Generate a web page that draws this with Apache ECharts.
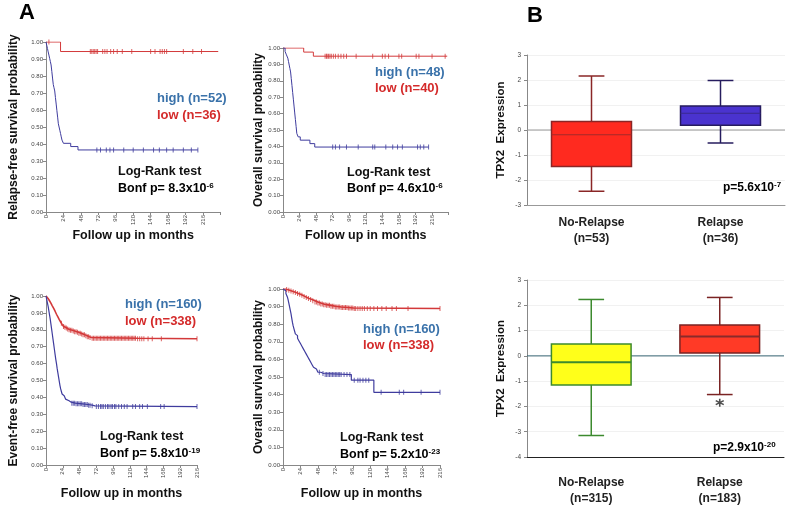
<!DOCTYPE html>
<html><head><meta charset="utf-8">
<script src="https://cdn.jsdelivr.net/npm/echarts@6/dist/echarts.min.js"></script>
<style>html,body{margin:0;padding:0;background:#fff}#c{width:798px;height:507px}</style>
</head><body><div id="c"></div>
<script>
// ---------- Kaplan-Meier data: [month, survival] step points ----------
const tlHigh = [[0,1],[1,0.981],[2,0.962],[3,0.942],[4,0.923],[5,0.904],[6,0.885],[7,0.865],[8,0.827],[9,0.788],[10,0.75],[11,0.731],[12,0.712],[13,0.673],[14,0.635],[15,0.596],[16,0.558],[17,0.519],[18,0.5],[19,0.481],[20,0.462],[21,0.442],[22,0.423],[24,0.404],[34,0.385],[44,0.365],[209,0.365]];
const tlHighCens = [70,75,83,88,93,107,120,134,148,156,166,175,189,200,209];
const tlLow = [[0,1],[20,0.944],[237,0.944]];
const tlLowCens = [4,61,63,65,67,69,71,78,81,84,89,93,98,105,118,144,150,157,160,163,166,189,202,214];

const tmHigh = [[0,1],[3,0.979],[5,0.958],[7,0.938],[8,0.917],[9,0.896],[10,0.875],[11,0.854],[12,0.813],[13,0.771],[14,0.729],[15,0.688],[16,0.646],[17,0.604],[18,0.563],[19,0.521],[20,0.479],[22,0.458],[25,0.438],[39,0.417],[46,0.396],[211,0.396]];
const tmHighCens = [72,76,82,92,109,130,133,149,159,166,173,195,199,204,211];
const tmLow = [[0,1],[30,0.975],[44,0.95],[238,0.95]];
const tmLowCens = [61,63,64,66,68,70,73,76,80,84,88,92,106,130,144,148,153,168,172,193,197,216,235];

const blHigh = [[0,1],[1,0.98],[2,0.96],[3,0.94],[4,0.915],[5,0.89],[6,0.865],[7,0.835],[8,0.805],[9,0.775],[10,0.745],[11,0.715],[12,0.685],[13,0.655],[14,0.625],[15,0.6],[16,0.57],[17,0.545],[18,0.52],[19,0.495],[20,0.47],[21,0.45],[22,0.435],[23,0.42],[24,0.41],[26,0.4],[28,0.39],[30,0.38],[33,0.372],[36,0.366],[42,0.362],[52,0.358],[60,0.354],[66,0.35],[70,0.346],[216,0.346]];
const blHighCens = [37,39,41,43,45,47,49,51,53,55,57,59,61,63,66,72,75,78,80,82,85,88,90,93,95,98,100,104,108,112,116,124,128,134,138,145,164,169,216];
const blLow = [[0,1],[1,0.995],[2,0.99],[3,0.985],[4,0.978],[5,0.972],[6,0.965],[7,0.958],[8,0.95],[9,0.942],[10,0.935],[11,0.927],[12,0.918],[13,0.91],[14,0.9],[15,0.892],[16,0.884],[17,0.876],[18,0.868],[19,0.86],[20,0.853],[21,0.846],[22,0.839],[23,0.832],[24,0.826],[25,0.82],[26,0.815],[28,0.81],[30,0.805],[32,0.8],[35,0.797],[38,0.793],[41,0.789],[44,0.785],[47,0.78],[50,0.775],[53,0.77],[56,0.765],[59,0.759],[62,0.754],[65,0.75],[130,0.747],[216,0.747]];
const blLowCens = [22,25,27,29,31,33,35,37,39,41,43,45,47,49,51,53,55,57,59,61,63,66,68,70,72,74,76,78,80,82,84,86,88,90,92,94,96,98,100,102,104,106,108,110,112,114,116,118,120,122,124,126,128,131,134,137,140,146,152,165,216];

const bmHigh = [[0,1],[2,0.99],[4,0.975],[6,0.955],[7,0.94],[8,0.92],[9,0.9],[10,0.88],[11,0.86],[12,0.835],[13,0.81],[14,0.79],[15,0.775],[16,0.76],[17,0.745],[18,0.735],[20,0.72],[22,0.705],[24,0.69],[26,0.675],[28,0.66],[30,0.645],[32,0.63],[34,0.615],[36,0.6],[38,0.585],[40,0.57],[42,0.555],[44,0.545],[46,0.535],[48,0.527],[52,0.52],[56,0.514],[94,0.482],[125,0.413],[216,0.413]];
const bmHighCens = [50,55,58,60,62,64,66,68,70,72,74,76,78,80,84,88,92,98,103,106,110,114,118,135,160,166,190,216];
const bmLow = [[0,1],[3,0.997],[6,0.993],[9,0.989],[12,0.985],[15,0.98],[18,0.975],[21,0.97],[24,0.964],[27,0.958],[30,0.952],[33,0.946],[36,0.94],[40,0.933],[44,0.926],[48,0.92],[52,0.915],[56,0.911],[60,0.907],[66,0.902],[72,0.898],[80,0.895],[90,0.892],[97,0.889],[216,0.889]];
const bmLowCens = [5,8,11,14,17,20,23,26,29,32,35,38,41,44,46,48,50,52,54,56,58,60,62,64,66,68,70,72,74,76,78,80,82,84,86,88,90,92,94,96,98,100,103,106,109,112,116,120,125,130,136,142,150,156,172,216];

const kmTicks = [0,24,48,72,96,120,144,168,192,216];

// ---------- Box plot data: [min, Q1, median, Q3, max] ----------
const boxCatsTop = ['No-Relapse\n(n=53)', 'Relapse\n(n=36)'];
const boxTopNoRel = [-2.45, -1.46, -0.19, 0.34, 2.16];
const boxTopRel = [-0.52, 0.19, 0.67, 0.96, 1.98];
const boxCatsBot = ['No-Relapse\n(n=315)', 'Relapse\n(n=183)'];
const boxBotNoRel = [-3.15, -1.15, -0.25, 0.47, 2.23];
const boxBotRel = [-1.53, 0.11, 0.77, 1.22, 2.31];
const boxBotRelOutliers = [-1.85];

// ---------- rendering ----------
const FONT = "'Liberation Sans', Arial, Helvetica, sans-serif";
const BLUE = '#3f3c9e', RED = '#d3393a';
const HIGHC = '#3a72aa', LOWC = '#d42b2b';

function stepAt(curve, t){ let s = curve[0][1]; for (const p of curve){ if (p[0] <= t) s = p[1]; else break; } return s; }
function cens(curve, times){ return times.map(t => [t, stepAt(curve, t)]); }

const grids = [
  {left:46, top:42, width:174.4, height:170},
  {left:283, top:48, width:165.6, height:164},
  {left:46, top:296, width:151, height:169},
  {left:283, top:289, width:157, height:176},
  {left:527, top:55, width:258, height:150},
  {left:527, top:280, width:257, height:178}
];

const nameStyle = {fontFamily:FONT, fontWeight:'bold', fontSize:12.5, color:'#111'};
const yNameStyle = {fontFamily:FONT, fontWeight:'bold', fontSize:12, color:'#111'};
function kmX(g, max, gap){ return {type:'value', gridIndex:g, min:0, max:max, interval:24,
  name:'Follow up in months', nameLocation:'middle', nameGap:gap, nameTextStyle:nameStyle,
  axisLine:{lineStyle:{color:'#888'}}, axisTick:{length:3, lineStyle:{color:'#888'}},
  axisLabel:{rotate:90, fontSize:6, color:'#444', margin:3, fontFamily:FONT,
    formatter: v => kmTicks.indexOf(v) >= 0 ? String(v) : ''},
  splitLine:{show:false}}; }
function kmY(g, name, gap){ return {type:'value', gridIndex:g, min:0, max:1, interval:0.1,
  name:name, nameLocation:'middle', nameGap:gap, nameTextStyle:yNameStyle,
  axisLine:{show:true, lineStyle:{color:'#888'}}, axisTick:{show:true, length:3, lineStyle:{color:'#888'}},
  axisLabel:{fontSize:6, color:'#444', margin:3, fontFamily:FONT, formatter: v => v.toFixed(2)},
  splitLine:{show:false}}; }
function boxX(g, cats, lineColor, margin){ return {type:'category', gridIndex:g, data:cats,
  axisLine:{onZero:false, lineStyle:{color:lineColor}}, axisTick:{alignWithLabel:true, length:3, lineStyle:{color:'#888'}},
  axisLabel:{fontFamily:FONT, fontWeight:'bold', fontSize:12, color:'#222', lineHeight:16, margin:margin}}; }
function boxY(g, min, max){ return {type:'value', gridIndex:g, min:min, max:max, interval:1,
  name:'TPX2  Expression', nameLocation:'middle', nameGap:20, nameTextStyle:{fontFamily:FONT, fontWeight:'bold', fontSize:11.5, color:'#111'},
  axisLine:{show:true, lineStyle:{color:'#888'}}, axisTick:{show:true, length:3, lineStyle:{color:'#888'}},
  axisLabel:{fontSize:6.5, color:'#444', margin:6, fontFamily:FONT},
  splitLine:{show:true, lineStyle:{color:'#f1f1f1'}}}; }

function kmSeries(g, curve, times, color, w){
  return [
    {type:'line', xAxisIndex:g, yAxisIndex:g, data:curve, step:'end', symbol:'none', lineStyle:{color:color, width:w}, z:2},
    {type:'scatter', xAxisIndex:g, yAxisIndex:g, data:cens(curve, times), symbol:'rect', symbolSize:[1,5], itemStyle:{color:color}, z:3}
  ];
}

function boxSeries(g, rows, styles, zeroColor){
  return {type:'custom', xAxisIndex:g, yAxisIndex:g,
    data: rows.map((r, i) => [i].concat(r)),
    encode:{x:0, y:[1,2,3,4,5]},
    renderItem: function(params, api){
      const i = api.value(0);
      const lo = api.value(1), q1 = api.value(2), md = api.value(3), q3 = api.value(4), hi = api.value(5);
      const cx = api.coord([i, 0])[0];
      const band = api.size([1, 0])[0];
      const bw = band * 0.62, cw = band * 0.1;
      const y = v => api.coord([i, v])[1];
      const st = styles[i];
      const ch = [];
      if (params.dataIndex === 0) {
        const cs = params.coordSys;
        ch.push({type:'line', shape:{x1:cs.x, y1:y(0), x2:cs.x + cs.width, y2:y(0)}, style:{stroke:zeroColor, lineWidth:1}});
      }
      ch.push({type:'line', shape:{x1:cx, y1:y(hi), x2:cx, y2:y(q3)}, style:{stroke:st.line, lineWidth:1.5}});
      ch.push({type:'line', shape:{x1:cx, y1:y(q1), x2:cx, y2:y(lo)}, style:{stroke:st.line, lineWidth:1.5}});
      ch.push({type:'line', shape:{x1:cx - cw, y1:y(hi), x2:cx + cw, y2:y(hi)}, style:{stroke:st.line, lineWidth:1.5}});
      ch.push({type:'line', shape:{x1:cx - cw, y1:y(lo), x2:cx + cw, y2:y(lo)}, style:{stroke:st.line, lineWidth:1.5}});
      ch.push({type:'rect', shape:{x:cx - bw/2, y:y(q3), width:bw, height:y(q1) - y(q3)}, style:{fill:st.fill, stroke:st.line, lineWidth:1.5}});
      ch.push({type:'line', shape:{x1:cx - bw/2, y1:y(md), x2:cx + bw/2, y2:y(md)}, style:{stroke:st.median, lineWidth:st.mw}});
      return {type:'group', children:ch};
    }};
}

function sup(base, exp){ return '{a|' + base + '}{b|' + exp + '}'; }
const richT = {a:{fontFamily:FONT, fontWeight:'bold', fontSize:12.5, color:'#111', lineHeight:14, verticalAlign:'middle'},
               b:{fontFamily:FONT, fontWeight:'bold', fontSize:8, color:'#111', verticalAlign:'top'}};
function txt(x, y, text, color, size){ return {type:'text', left:x, top:y, style:{text:text, fill:color, font:'bold ' + (size||12.5) + 'px ' + FONT}}; }
function rtxt(x, y, text){ return {type:'text', left:x, top:y, style:{text:text, rich:richT}}; }

const option = {
  animation:false,
  backgroundColor:'#fff',
  grid: grids,
  xAxis: [kmX(0, 240, 16), kmX(1, 240, 16), kmX(2, 216, 22), kmX(3, 216, 22),
          boxX(4, boxCatsTop, '#999', 10), boxX(5, boxCatsBot, '#222', 18)],
  yAxis: [kmY(0, 'Relapse-free survival probability', 26), kmY(1, 'Overall survival probability', 13),
          kmY(2, 'Event-free survival probability', 26), kmY(3, 'Overall survival probability', 13),
          boxY(4, -3, 3), boxY(5, -4, 3)],
  series: [].concat(
    kmSeries(0, tlLow, tlLowCens, RED, 1), kmSeries(0, tlHigh, tlHighCens, BLUE, 1),
    kmSeries(1, tmLow, tmLowCens, RED, 1), kmSeries(1, tmHigh, tmHighCens, BLUE, 1),
    kmSeries(2, blLow, blLowCens, RED, 1.6), kmSeries(2, blHigh, blHighCens, BLUE, 1.2),
    kmSeries(3, bmLow, bmLowCens, RED, 1.6), kmSeries(3, bmHigh, bmHighCens, BLUE, 1.2),
    [boxSeries(4, [boxTopNoRel, boxTopRel], [
        {fill:'#ff2a1f', line:'#8a2626', median:'#a52a2a', mw:1},
        {fill:'#4a33cf', line:'#261c5e', median:'#3a2a8f', mw:1}], '#999'),
     boxSeries(5, [boxBotNoRel, boxBotRel], [
        {fill:'#ffff1a', line:'#3c8a2e', median:'#3c8a2e', mw:2},
        {fill:'#ff3a26', line:'#7a2323', median:'#8a2a2a', mw:2}], '#3c6a78'),
     {type:'scatter', xAxisIndex:5, yAxisIndex:5, data: boxBotRelOutliers.map(v => [1, v]),
      symbol:'path://M5,0L5,10M0.7,2.5L9.3,7.5M0.7,7.5L9.3,2.5', symbolSize:8,
      itemStyle:{color:'none', borderColor:'#222', borderWidth:1.6}, z:5}]
  ),
  graphic: [
    txt(19, 2, 'A', '#000', 22), txt(527, 5, 'B', '#000', 22),
    txt(157, 92, 'high (n=52)', HIGHC, 13), txt(157, 109, 'low (n=36)', LOWC, 13),
    txt(118, 165, 'Log-Rank test', '#111'), rtxt(118, 182, sup('Bonf p= 8.3x10', '-6')),
    txt(375, 66, 'high (n=48)', HIGHC, 13), txt(375, 82, 'low (n=40)', LOWC, 13),
    txt(347, 166, 'Log-Rank test', '#111'), rtxt(347, 182, sup('Bonf p= 4.6x10', '-6')),
    txt(125, 298, 'high (n=160)', HIGHC, 13), txt(125, 315, 'low (n=338)', LOWC, 13),
    txt(100, 430, 'Log-Rank test', '#111'), rtxt(100, 447, sup('Bonf p= 5.8x10', '-19')),
    txt(363, 323, 'high (n=160)', HIGHC, 13), txt(363, 339, 'low (n=338)', LOWC, 13),
    txt(340, 431, 'Log-Rank test', '#111'), rtxt(340, 448, sup('Bonf p= 5.2x10', '-23')),
    {type:'text', left:723, top:181, style:{text:'{a|p=5.6x10}{b|-7}', rich:{a:Object.assign({}, richT.a, {fontSize:12}), b:richT.b}}},
    {type:'text', left:713, top:441, style:{text:'{a|p=2.9x10}{b|-20}', rich:{a:Object.assign({}, richT.a, {fontSize:12}), b:richT.b}}}
  ]
};
const chart = echarts.init(document.getElementById('c'), null, {renderer:'canvas'});
chart.setOption(option);
</script></body></html>
